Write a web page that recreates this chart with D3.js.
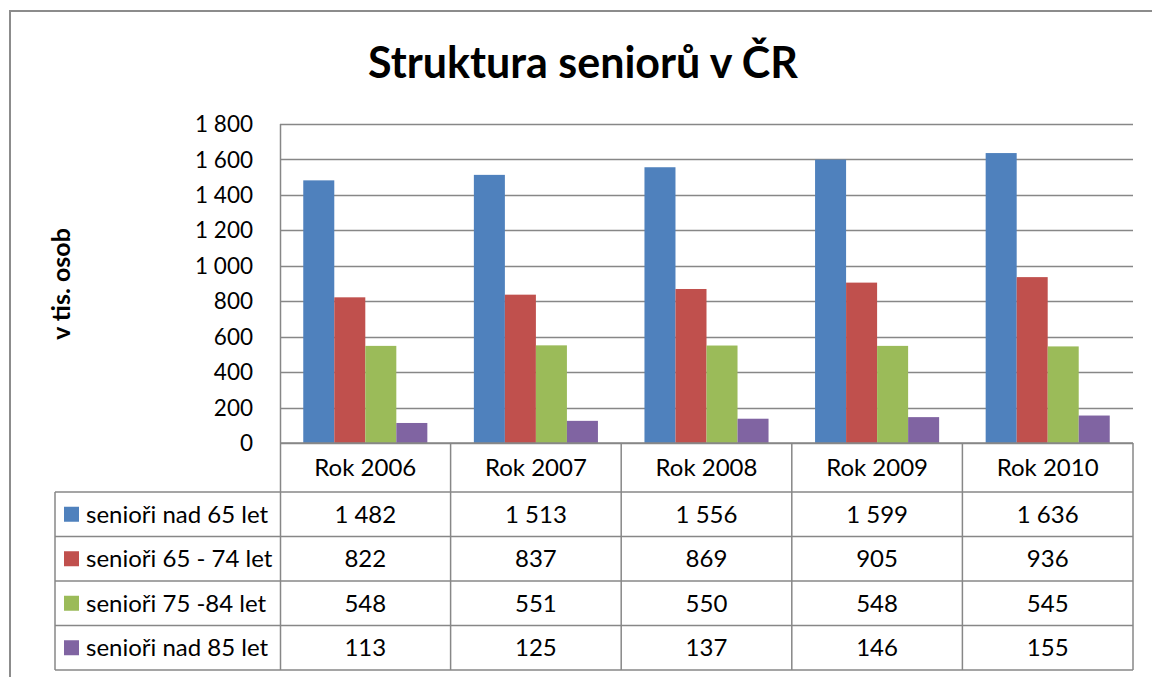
<!DOCTYPE html>
<html>
<head>
<meta charset="utf-8">
<script src="https://cdn.jsdelivr.net/npm/d3@7"></script>
<style>
body{margin:0;background:#fff;}
svg{display:block;font-family:Lato,"Noto Sans",sans-serif;}
</style>
</head>
<body>
<script>
// data
var years = ["Rok 2006","Rok 2007","Rok 2008","Rok 2009","Rok 2010"];
var seriesNames = ["senioři nad 65 let","senioři 65 - 74 let","senioři 75 -84 let","senioři nad 85 let"];
var nad65 = [1482,1513,1556,1599,1636];
var s65_74 = [822,837,869,905,936];
var s75_84 = [548,551,550,548,545];
var nad85 = [113,125,137,146,155];
var yTicks = [0,200,400,600,800,1000,1200,1400,1600,1800];
var colors = ["#4F81BD","#C0504D","#9BBB59","#8064A2"];

var series = [nad65,s65_74,s75_84,nad85];

var W = 1152, H = 677;
var svg = d3.select("body").append("svg").attr("width",W).attr("height",H);

var plot = {left:280, right:1133, top:124, bottom:443};
var legLeft = 55, rowH = 44.5, headerBottom = 492;

var fmt = function(v){ return d3.format(",")(v).replace(/,/g," "); };

// outer frame
svg.append("rect").attr("x",10).attr("y",11).attr("width",1160).attr("height",690)
  .attr("fill","none").attr("stroke","#8c8c8c").attr("stroke-width",2);

// title
svg.append("text").attr("x",583).attr("y",78).attr("text-anchor","middle")
  .style("font-weight","bold").style("font-size","43px").attr("fill","#000")
  .text("Struktura seniorů v ČR");

var x0 = d3.scaleBand().domain(years).range([plot.left,plot.right]);
var x1 = d3.scaleBand().domain(d3.range(series.length)).range([0,x0.bandwidth()]).paddingInner(0).paddingOuter(0.75);
var y = d3.scaleLinear().domain([0,1800]).range([plot.bottom,plot.top]);

// gridlines
svg.append("g").selectAll("line").data(yTicks).enter().append("line")
  .attr("x1",plot.left).attr("x2",plot.right)
  .attr("y1",function(d){return Math.round(y(d))+0.5;}).attr("y2",function(d){return Math.round(y(d))+0.5;})
  .attr("stroke","#878787").attr("stroke-width",1.5);

// y tick labels
svg.append("g").selectAll("text").data(yTicks).enter().append("text")
  .attr("x",253).attr("y",function(d){return y(d);}).attr("dy","0.36em")
  .attr("text-anchor","end").style("font-size","22.5px").attr("fill","#000")
  .text(fmt);

// axis title
svg.append("text").attr("transform","translate(70,284) rotate(-90)")
  .attr("text-anchor","middle").style("font-weight","bold").style("font-size","25px")
  .text("v tis. osob");

// bars
var groups = svg.append("g").selectAll("g").data(years).enter().append("g")
  .attr("transform",function(d){return "translate("+x0(d)+",0)";});
groups.selectAll("rect").data(function(d,i){return series.map(function(s,k){return {k:k,v:s[i]};});})
  .enter().append("rect")
  .attr("x",function(d){return x1(d.k);})
  .attr("width",x1.bandwidth())
  .attr("y",function(d){return y(d.v);})
  .attr("height",function(d){return plot.bottom-y(d.v);})
  .attr("fill",function(d){return colors[d.k];});

// left axis line
svg.append("line").attr("x1",plot.left+0.5).attr("x2",plot.left+0.5)
  .attr("y1",plot.top).attr("y2",headerBottom+rowH*4)
  .attr("stroke","#878787").attr("stroke-width",1.5);

// data table
var tableBottom = headerBottom + rowH*series.length;
var tg = svg.append("g").attr("stroke","#878787").attr("stroke-width",1.5);
tg.append("line").attr("x1",plot.left).attr("x2",plot.right).attr("y1",plot.bottom).attr("y2",plot.bottom);
tg.selectAll("line.col").data(years).enter().append("line").attr("class","col")
  .attr("x1",function(d){return x0(d)+x0.bandwidth();}).attr("x2",function(d){return x0(d)+x0.bandwidth();})
  .attr("y1",plot.bottom).attr("y2",tableBottom);
tg.append("line").attr("x1",legLeft).attr("x2",legLeft).attr("y1",headerBottom).attr("y2",tableBottom);
tg.selectAll("line.row").data(d3.range(series.length+1)).enter().append("line").attr("class","row")
  .attr("x1",legLeft).attr("x2",plot.right)
  .attr("y1",function(i){return headerBottom+i*rowH;}).attr("y2",function(i){return headerBottom+i*rowH;});

// header labels
svg.append("g").selectAll("text").data(years).enter().append("text")
  .attr("x",function(d){return x0(d)+x0.bandwidth()/2;})
  .attr("y",(plot.bottom+headerBottom)/2).attr("dy","0.36em")
  .attr("text-anchor","middle").style("font-size","24px").text(function(d){return d;});

// rows
series.forEach(function(s,k){
  var cy = headerBottom + k*rowH + rowH/2;
  svg.append("rect").attr("x",64).attr("y",cy-7.5).attr("width",15).attr("height",15).attr("fill",colors[k]);
  svg.append("text").attr("x",86).attr("y",cy).attr("dy","0.36em")
    .style("font-size","24px").text(seriesNames[k]);
  svg.append("g").selectAll("text").data(s).enter().append("text")
    .attr("x",function(d,i){return x0(years[i])+x0.bandwidth()/2;})
    .attr("y",cy).attr("dy","0.36em").attr("text-anchor","middle")
    .style("font-size","24px").text(fmt);
});
</script>
</body>
</html>
